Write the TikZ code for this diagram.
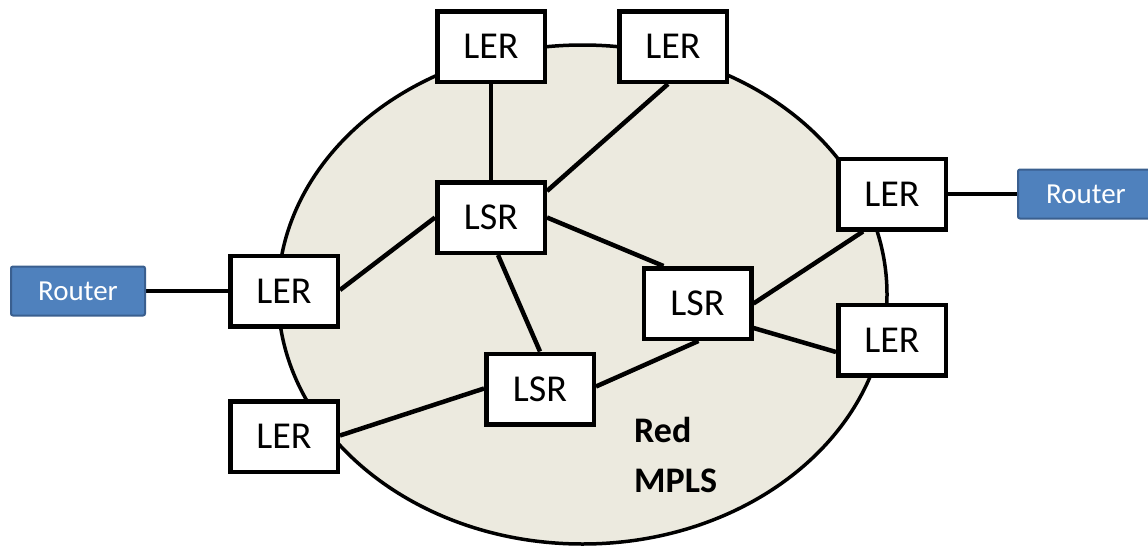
\documentclass[tikz,border=0pt]{standalone}
\usepackage{fontspec}
\setmainfont{Carlito}
\definecolor{cloudfill}{HTML}{ECEADF}
\definecolor{routerfill}{HTML}{4F81BD}
\definecolor{routerline}{HTML}{3A5F8F}
\pgfdeclarelayer{back}
\pgfdeclarelayer{wires}
\pgfsetlayers{back,wires,main}
\begin{document}
\begin{tikzpicture}[x=1pt,y=-1pt,
  box/.style={draw=black, line width=4.5pt, fill=white, minimum width=107.5pt,
    minimum height=70.5pt, inner sep=0pt, font=\fontsize{38}{40}\selectfont},
  router/.style={draw=routerline, line width=2pt, fill=routerfill, rounded corners=2pt,
    minimum width=134pt, minimum height=49pt, inner sep=0pt, text=white,
    font=\fontsize{29}{30}\selectfont},
  link/.style={line width=4.5pt}]
\useasboundingbox (0,0) rectangle (1148,546);

% MPLS cloud
\begin{pgfonlayer}{back}
\draw[line width=3.5pt, fill=cloudfill] (582.5,294.5) ellipse [x radius=304.5, y radius=249.5];
\end{pgfonlayer}

% edge and switch routers
\node[box] (lerTL) at (491,46.5) {LER};
\node[box] (lerTR) at (673,46.5) {LER};
\node[box] (lsrA)  at (491,217.5) {LSR};
\node[box] (lerR)  at (892,194) {LER};
\node[box] (lsrB)  at (697.5,303.5) {LSR};
\node[box] (lerRL) at (892,340) {LER};
\node[box] (lerL)  at (284,291) {LER};
\node[box] (lsrC)  at (540,389) {LSR};
\node[box] (lerBL) at (284,436.5) {LER};

% external routers
\node[router] (rtL) at (78,291) {Router};
\node[router, minimum width=136pt] (rtR) at (1086,194) {Router};

% links, kept under the boxes
\begin{pgfonlayer}{wires}
\draw[link] (lerTL.south) -- (lsrA.north);
\draw[link] ([xshift=-5pt]lerTR.south) -- ([yshift=-11pt]lsrA.north east);
\draw[link] (lsrA.west) -- ([yshift=1pt]lerL.east);
\draw[link] (lsrA.east) -- ([xshift=22pt]lsrB.north west);
\draw[link] ([xshift=7pt]lsrA.south) -- (lsrC.north);
\draw[link] (lsrB.east) -- ([xshift=-29pt]lerR.south);
\draw[link] ([yshift=13pt]lsrB.south east) -- ([yshift=-12pt]lerRL.west);
\draw[link] ([xshift=1pt]lsrB.south) -- ([yshift=-35pt]lsrC.north east);
\draw[link] ([yshift=1pt]lerBL.east) -- ([yshift=-37pt]lsrC.north west);
\draw[link] (rtL.east) -- (lerL.west);
\draw[link] (lerR.east) -- (rtR.west);
\end{pgfonlayer}

\node[anchor=north west, align=left, inner sep=0pt,
  font=\fontsize{36}{50}\selectfont\bfseries] (label) at (634,417) {Red\\MPLS};
\end{tikzpicture}
\end{document}
